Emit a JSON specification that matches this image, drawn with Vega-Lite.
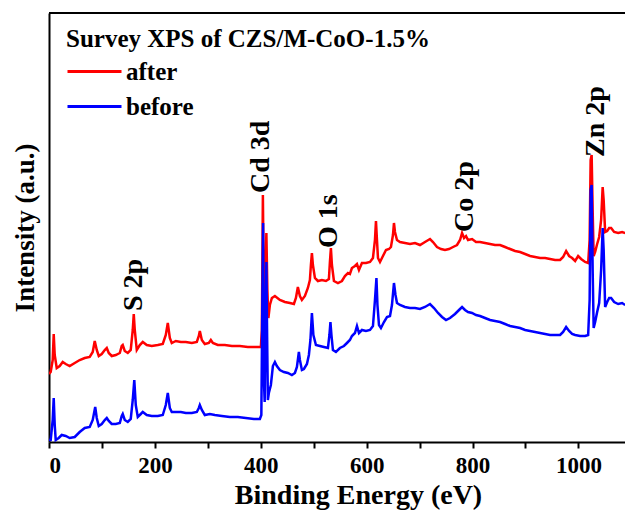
{
  "$schema": "https://vega.github.io/schema/vega-lite/v6.json",
  "width": 576,
  "height": 429,
  "autosize": {"type": "none"},
  "padding": {"left": 49, "top": 13, "right": 0, "bottom": 68},
  "background": "white",
  "config": {"view": {"stroke": null}, "font": "Liberation Serif"},
  "datasets": {
    "spectra": [
      {"sample": "after", "energy": 0, "intensity": 68},
      {"sample": "after", "energy": 3.2, "intensity": 70},
      {"sample": "after", "energy": 7.0, "intensity": 82},
      {"sample": "after", "energy": 8.9, "intensity": 108},
      {"sample": "after", "energy": 10.8, "intensity": 87},
      {"sample": "after", "energy": 14.6, "intensity": 74},
      {"sample": "after", "energy": 20.2, "intensity": 76},
      {"sample": "after", "energy": 25.9, "intensity": 80},
      {"sample": "after", "energy": 31.6, "intensity": 78},
      {"sample": "after", "energy": 39.1, "intensity": 76},
      {"sample": "after", "energy": 48.6, "intensity": 79},
      {"sample": "after", "energy": 58.0, "intensity": 82},
      {"sample": "after", "energy": 67.5, "intensity": 84},
      {"sample": "after", "energy": 76.9, "intensity": 85},
      {"sample": "after", "energy": 82.6, "intensity": 90},
      {"sample": "after", "energy": 86.4, "intensity": 101},
      {"sample": "after", "energy": 90.2, "intensity": 92},
      {"sample": "after", "energy": 94.0, "intensity": 86},
      {"sample": "after", "energy": 99.6, "intensity": 88},
      {"sample": "after", "energy": 105.3, "intensity": 92},
      {"sample": "after", "energy": 109.1, "intensity": 94},
      {"sample": "after", "energy": 112.9, "intensity": 89},
      {"sample": "after", "energy": 118.5, "intensity": 86},
      {"sample": "after", "energy": 126.1, "intensity": 87},
      {"sample": "after", "energy": 133.7, "intensity": 89},
      {"sample": "after", "energy": 137.4, "intensity": 96},
      {"sample": "after", "energy": 139.3, "intensity": 97},
      {"sample": "after", "energy": 143.1, "intensity": 91},
      {"sample": "after", "energy": 148.8, "intensity": 89},
      {"sample": "after", "energy": 154.4, "intensity": 92},
      {"sample": "after", "energy": 158.2, "intensity": 112},
      {"sample": "after", "energy": 160.1, "intensity": 128},
      {"sample": "after", "energy": 162.0, "intensity": 112},
      {"sample": "after", "energy": 165.8, "intensity": 92},
      {"sample": "after", "energy": 171.5, "intensity": 97},
      {"sample": "after", "energy": 177.1, "intensity": 100},
      {"sample": "after", "energy": 184.7, "intensity": 97},
      {"sample": "after", "energy": 194.1, "intensity": 96},
      {"sample": "after", "energy": 205.5, "intensity": 97},
      {"sample": "after", "energy": 214.9, "intensity": 98},
      {"sample": "after", "energy": 220.6, "intensity": 107},
      {"sample": "after", "energy": 224.4, "intensity": 119},
      {"sample": "after", "energy": 228.2, "intensity": 104},
      {"sample": "after", "energy": 231.9, "intensity": 99},
      {"sample": "after", "energy": 239.5, "intensity": 101},
      {"sample": "after", "energy": 249.0, "intensity": 100},
      {"sample": "after", "energy": 258.4, "intensity": 100},
      {"sample": "after", "energy": 269.8, "intensity": 99},
      {"sample": "after", "energy": 279.2, "intensity": 100},
      {"sample": "after", "energy": 283.0, "intensity": 106},
      {"sample": "after", "energy": 284.9, "intensity": 111},
      {"sample": "after", "energy": 288.7, "intensity": 102},
      {"sample": "after", "energy": 294.3, "intensity": 98},
      {"sample": "after", "energy": 301.9, "intensity": 99},
      {"sample": "after", "energy": 305.7, "intensity": 102},
      {"sample": "after", "energy": 309.5, "intensity": 99},
      {"sample": "after", "energy": 318.9, "intensity": 97},
      {"sample": "after", "energy": 332.1, "intensity": 97},
      {"sample": "after", "energy": 345.4, "intensity": 96},
      {"sample": "after", "energy": 360.5, "intensity": 96},
      {"sample": "after", "energy": 375.6, "intensity": 95},
      {"sample": "after", "energy": 388.9, "intensity": 95},
      {"sample": "after", "energy": 400.2, "intensity": 95},
      {"sample": "after", "energy": 402.1, "intensity": 112},
      {"sample": "after", "energy": 404.0, "intensity": 247},
      {"sample": "after", "energy": 405.9, "intensity": 142},
      {"sample": "after", "energy": 407.8, "intensity": 152},
      {"sample": "after", "energy": 410.6, "intensity": 209},
      {"sample": "after", "energy": 412.5, "intensity": 152},
      {"sample": "after", "energy": 414.4, "intensity": 124},
      {"sample": "after", "energy": 417.2, "intensity": 137},
      {"sample": "after", "energy": 421.0, "intensity": 144},
      {"sample": "after", "energy": 426.7, "intensity": 146},
      {"sample": "after", "energy": 436.1, "intensity": 142},
      {"sample": "after", "energy": 445.6, "intensity": 140},
      {"sample": "after", "energy": 455.0, "intensity": 139},
      {"sample": "after", "energy": 462.6, "intensity": 138},
      {"sample": "after", "energy": 466.4, "intensity": 144},
      {"sample": "after", "energy": 470.1, "intensity": 155},
      {"sample": "after", "energy": 473.9, "intensity": 146},
      {"sample": "after", "energy": 477.7, "intensity": 142},
      {"sample": "after", "energy": 483.4, "intensity": 146},
      {"sample": "after", "energy": 489.0, "intensity": 154},
      {"sample": "after", "energy": 492.8, "intensity": 162},
      {"sample": "after", "energy": 494.7, "intensity": 177},
      {"sample": "after", "energy": 496.6, "intensity": 189},
      {"sample": "after", "energy": 498.5, "intensity": 177},
      {"sample": "after", "energy": 502.3, "intensity": 164},
      {"sample": "after", "energy": 507.9, "intensity": 161},
      {"sample": "after", "energy": 515.5, "intensity": 162},
      {"sample": "after", "energy": 523.1, "intensity": 161},
      {"sample": "after", "energy": 528.7, "intensity": 163},
      {"sample": "after", "energy": 530.6, "intensity": 180},
      {"sample": "after", "energy": 532.5, "intensity": 194},
      {"sample": "after", "energy": 534.4, "intensity": 177},
      {"sample": "after", "energy": 538.2, "intensity": 161},
      {"sample": "after", "energy": 545.8, "intensity": 159},
      {"sample": "after", "energy": 553.3, "intensity": 161},
      {"sample": "after", "energy": 559.0, "intensity": 166},
      {"sample": "after", "energy": 564.7, "intensity": 169},
      {"sample": "after", "energy": 568.4, "intensity": 168},
      {"sample": "after", "energy": 572.2, "intensity": 174},
      {"sample": "after", "energy": 577.9, "intensity": 176},
      {"sample": "after", "energy": 581.7, "intensity": 178},
      {"sample": "after", "energy": 585.5, "intensity": 172},
      {"sample": "after", "energy": 591.1, "intensity": 179},
      {"sample": "after", "energy": 598.7, "intensity": 179},
      {"sample": "after", "energy": 606.3, "intensity": 180},
      {"sample": "after", "energy": 611.9, "intensity": 184},
      {"sample": "after", "energy": 615.7, "intensity": 202},
      {"sample": "after", "energy": 617.6, "intensity": 221},
      {"sample": "after", "energy": 619.5, "intensity": 202},
      {"sample": "after", "energy": 621.4, "intensity": 184},
      {"sample": "after", "energy": 625.2, "intensity": 180},
      {"sample": "after", "energy": 630.8, "intensity": 186},
      {"sample": "after", "energy": 636.5, "intensity": 192},
      {"sample": "after", "energy": 642.2, "intensity": 193},
      {"sample": "after", "energy": 645.9, "intensity": 195},
      {"sample": "after", "energy": 649.7, "intensity": 207},
      {"sample": "after", "energy": 651.6, "intensity": 219},
      {"sample": "after", "energy": 653.5, "intensity": 210},
      {"sample": "after", "energy": 657.3, "intensity": 202},
      {"sample": "after", "energy": 663.0, "intensity": 200},
      {"sample": "after", "energy": 672.4, "intensity": 199},
      {"sample": "after", "energy": 681.9, "intensity": 198},
      {"sample": "after", "energy": 691.3, "intensity": 199},
      {"sample": "after", "energy": 700.8, "intensity": 197},
      {"sample": "after", "energy": 710.2, "intensity": 200},
      {"sample": "after", "energy": 719.7, "intensity": 203},
      {"sample": "after", "energy": 725.3, "intensity": 200},
      {"sample": "after", "energy": 732.9, "intensity": 195},
      {"sample": "after", "energy": 740.5, "intensity": 193},
      {"sample": "after", "energy": 748.0, "intensity": 192},
      {"sample": "after", "energy": 755.6, "intensity": 193},
      {"sample": "after", "energy": 763.2, "intensity": 195},
      {"sample": "after", "energy": 770.7, "intensity": 197},
      {"sample": "after", "energy": 776.4, "intensity": 202},
      {"sample": "after", "energy": 780.2, "intensity": 209},
      {"sample": "after", "energy": 784.0, "intensity": 204},
      {"sample": "after", "energy": 787.7, "intensity": 206},
      {"sample": "after", "energy": 791.5, "intensity": 202},
      {"sample": "after", "energy": 799.1, "intensity": 203},
      {"sample": "after", "energy": 806.6, "intensity": 200},
      {"sample": "after", "energy": 814.2, "intensity": 200},
      {"sample": "after", "energy": 823.6, "intensity": 199},
      {"sample": "after", "energy": 833.1, "intensity": 198},
      {"sample": "after", "energy": 842.5, "intensity": 197},
      {"sample": "after", "energy": 852.0, "intensity": 197},
      {"sample": "after", "energy": 861.5, "intensity": 195},
      {"sample": "after", "energy": 870.9, "intensity": 193},
      {"sample": "after", "energy": 880.4, "intensity": 191},
      {"sample": "after", "energy": 889.8, "intensity": 190},
      {"sample": "after", "energy": 899.3, "intensity": 188},
      {"sample": "after", "energy": 908.7, "intensity": 186},
      {"sample": "after", "energy": 918.2, "intensity": 185},
      {"sample": "after", "energy": 927.6, "intensity": 184},
      {"sample": "after", "energy": 937.1, "intensity": 184},
      {"sample": "after", "energy": 946.5, "intensity": 183},
      {"sample": "after", "energy": 956.0, "intensity": 182},
      {"sample": "after", "energy": 965.4, "intensity": 182},
      {"sample": "after", "energy": 971.1, "intensity": 185},
      {"sample": "after", "energy": 976.8, "intensity": 191},
      {"sample": "after", "energy": 982.4, "intensity": 186},
      {"sample": "after", "energy": 988.1, "intensity": 184},
      {"sample": "after", "energy": 993.8, "intensity": 181},
      {"sample": "after", "energy": 999.5, "intensity": 186},
      {"sample": "after", "energy": 1005.1, "intensity": 183},
      {"sample": "after", "energy": 1012.7, "intensity": 180},
      {"sample": "after", "energy": 1018.4, "intensity": 179},
      {"sample": "after", "energy": 1021.2, "intensity": 202},
      {"sample": "after", "energy": 1023.1, "intensity": 282},
      {"sample": "after", "energy": 1025.0, "intensity": 287},
      {"sample": "after", "energy": 1026.9, "intensity": 232},
      {"sample": "after", "energy": 1028.8, "intensity": 186},
      {"sample": "after", "energy": 1031.6, "intensity": 190},
      {"sample": "after", "energy": 1035.4, "intensity": 198},
      {"sample": "after", "energy": 1039.2, "intensity": 205},
      {"sample": "after", "energy": 1042.9, "intensity": 222},
      {"sample": "after", "energy": 1045.8, "intensity": 255},
      {"sample": "after", "energy": 1047.7, "intensity": 242},
      {"sample": "after", "energy": 1050.5, "intensity": 210},
      {"sample": "after", "energy": 1054.3, "intensity": 211},
      {"sample": "after", "energy": 1058.1, "intensity": 214},
      {"sample": "after", "energy": 1061.8, "intensity": 214},
      {"sample": "after", "energy": 1067.5, "intensity": 210},
      {"sample": "after", "energy": 1075.1, "intensity": 209},
      {"sample": "after", "energy": 1082.6, "intensity": 210},
      {"sample": "after", "energy": 1088.3, "intensity": 209},
      {"sample": "before", "energy": 0, "intensity": 2},
      {"sample": "before", "energy": 3.2, "intensity": 2},
      {"sample": "before", "energy": 7.0, "intensity": 22},
      {"sample": "before", "energy": 8.9, "intensity": 44},
      {"sample": "before", "energy": 10.8, "intensity": 17},
      {"sample": "before", "energy": 12.7, "intensity": 2},
      {"sample": "before", "energy": 18.3, "intensity": 4},
      {"sample": "before", "energy": 24.0, "intensity": 7},
      {"sample": "before", "energy": 31.6, "intensity": 6},
      {"sample": "before", "energy": 39.1, "intensity": 4},
      {"sample": "before", "energy": 48.6, "intensity": 5},
      {"sample": "before", "energy": 58.0, "intensity": 10},
      {"sample": "before", "energy": 67.5, "intensity": 14},
      {"sample": "before", "energy": 76.9, "intensity": 15},
      {"sample": "before", "energy": 82.6, "intensity": 22},
      {"sample": "before", "energy": 87.3, "intensity": 35},
      {"sample": "before", "energy": 90.2, "intensity": 24},
      {"sample": "before", "energy": 94.0, "intensity": 16},
      {"sample": "before", "energy": 99.6, "intensity": 18},
      {"sample": "before", "energy": 105.3, "intensity": 22},
      {"sample": "before", "energy": 109.1, "intensity": 24},
      {"sample": "before", "energy": 112.9, "intensity": 21},
      {"sample": "before", "energy": 118.5, "intensity": 18},
      {"sample": "before", "energy": 126.1, "intensity": 18},
      {"sample": "before", "energy": 133.7, "intensity": 19},
      {"sample": "before", "energy": 137.4, "intensity": 26},
      {"sample": "before", "energy": 139.3, "intensity": 28},
      {"sample": "before", "energy": 143.1, "intensity": 22},
      {"sample": "before", "energy": 148.8, "intensity": 20},
      {"sample": "before", "energy": 154.4, "intensity": 23},
      {"sample": "before", "energy": 158.2, "intensity": 42},
      {"sample": "before", "energy": 161.1, "intensity": 62},
      {"sample": "before", "energy": 163.9, "intensity": 37},
      {"sample": "before", "energy": 167.7, "intensity": 25},
      {"sample": "before", "energy": 173.4, "intensity": 28},
      {"sample": "before", "energy": 177.1, "intensity": 30},
      {"sample": "before", "energy": 184.7, "intensity": 27},
      {"sample": "before", "energy": 194.1, "intensity": 26},
      {"sample": "before", "energy": 205.5, "intensity": 26},
      {"sample": "before", "energy": 214.9, "intensity": 27},
      {"sample": "before", "energy": 220.6, "intensity": 37},
      {"sample": "before", "energy": 224.4, "intensity": 49},
      {"sample": "before", "energy": 228.2, "intensity": 34},
      {"sample": "before", "energy": 231.9, "intensity": 30},
      {"sample": "before", "energy": 239.5, "intensity": 30},
      {"sample": "before", "energy": 249.0, "intensity": 30},
      {"sample": "before", "energy": 258.4, "intensity": 29},
      {"sample": "before", "energy": 269.8, "intensity": 29},
      {"sample": "before", "energy": 279.2, "intensity": 30},
      {"sample": "before", "energy": 283.0, "intensity": 34},
      {"sample": "before", "energy": 284.9, "intensity": 37},
      {"sample": "before", "energy": 288.7, "intensity": 32},
      {"sample": "before", "energy": 294.3, "intensity": 27},
      {"sample": "before", "energy": 303.8, "intensity": 28},
      {"sample": "before", "energy": 313.2, "intensity": 27},
      {"sample": "before", "energy": 326.5, "intensity": 26},
      {"sample": "before", "energy": 341.6, "intensity": 25},
      {"sample": "before", "energy": 356.7, "intensity": 25},
      {"sample": "before", "energy": 371.8, "intensity": 24},
      {"sample": "before", "energy": 387.0, "intensity": 23},
      {"sample": "before", "energy": 398.3, "intensity": 23},
      {"sample": "before", "energy": 401.1, "intensity": 27},
      {"sample": "before", "energy": 403.0, "intensity": 142},
      {"sample": "before", "energy": 404.4, "intensity": 219},
      {"sample": "before", "energy": 405.9, "intensity": 62},
      {"sample": "before", "energy": 407.4, "intensity": 40},
      {"sample": "before", "energy": 408.9, "intensity": 112},
      {"sample": "before", "energy": 410.6, "intensity": 180},
      {"sample": "before", "energy": 412.1, "intensity": 102},
      {"sample": "before", "energy": 413.4, "intensity": 42},
      {"sample": "before", "energy": 415.3, "intensity": 49},
      {"sample": "before", "energy": 419.1, "intensity": 57},
      {"sample": "before", "energy": 422.9, "intensity": 76},
      {"sample": "before", "energy": 426.7, "intensity": 80},
      {"sample": "before", "energy": 430.4, "intensity": 76},
      {"sample": "before", "energy": 436.1, "intensity": 72},
      {"sample": "before", "energy": 443.7, "intensity": 70},
      {"sample": "before", "energy": 451.2, "intensity": 69},
      {"sample": "before", "energy": 458.8, "intensity": 67},
      {"sample": "before", "energy": 464.5, "intensity": 69},
      {"sample": "before", "energy": 468.3, "intensity": 75},
      {"sample": "before", "energy": 472.0, "intensity": 90},
      {"sample": "before", "energy": 473.9, "intensity": 82},
      {"sample": "before", "energy": 477.7, "intensity": 72},
      {"sample": "before", "energy": 481.5, "intensity": 73},
      {"sample": "before", "energy": 487.2, "intensity": 78},
      {"sample": "before", "energy": 490.9, "intensity": 87},
      {"sample": "before", "energy": 493.8, "intensity": 102},
      {"sample": "before", "energy": 496.6, "intensity": 129},
      {"sample": "before", "energy": 499.4, "intensity": 107},
      {"sample": "before", "energy": 504.2, "intensity": 97},
      {"sample": "before", "energy": 511.7, "intensity": 96},
      {"sample": "before", "energy": 519.3, "intensity": 95},
      {"sample": "before", "energy": 526.9, "intensity": 94},
      {"sample": "before", "energy": 529.7, "intensity": 107},
      {"sample": "before", "energy": 531.6, "intensity": 120},
      {"sample": "before", "energy": 533.5, "intensity": 107},
      {"sample": "before", "energy": 536.3, "intensity": 92},
      {"sample": "before", "energy": 542.0, "intensity": 90},
      {"sample": "before", "energy": 549.5, "intensity": 94},
      {"sample": "before", "energy": 557.1, "intensity": 96},
      {"sample": "before", "energy": 562.8, "intensity": 99},
      {"sample": "before", "energy": 568.4, "intensity": 102},
      {"sample": "before", "energy": 572.2, "intensity": 106},
      {"sample": "before", "energy": 577.9, "intensity": 109},
      {"sample": "before", "energy": 581.7, "intensity": 116},
      {"sample": "before", "energy": 585.5, "intensity": 109},
      {"sample": "before", "energy": 591.1, "intensity": 112},
      {"sample": "before", "energy": 598.7, "intensity": 111},
      {"sample": "before", "energy": 606.3, "intensity": 112},
      {"sample": "before", "energy": 611.9, "intensity": 116},
      {"sample": "before", "energy": 615.7, "intensity": 142},
      {"sample": "before", "energy": 618.5, "intensity": 164},
      {"sample": "before", "energy": 620.4, "intensity": 137},
      {"sample": "before", "energy": 623.3, "intensity": 117},
      {"sample": "before", "energy": 627.0, "intensity": 114},
      {"sample": "before", "energy": 632.7, "intensity": 120},
      {"sample": "before", "energy": 638.4, "intensity": 125},
      {"sample": "before", "energy": 644.1, "intensity": 126},
      {"sample": "before", "energy": 647.8, "intensity": 137},
      {"sample": "before", "energy": 651.6, "intensity": 159},
      {"sample": "before", "energy": 654.5, "intensity": 147},
      {"sample": "before", "energy": 657.3, "intensity": 139},
      {"sample": "before", "energy": 663.0, "intensity": 137},
      {"sample": "before", "energy": 672.4, "intensity": 135},
      {"sample": "before", "energy": 681.9, "intensity": 134},
      {"sample": "before", "energy": 691.3, "intensity": 134},
      {"sample": "before", "energy": 700.8, "intensity": 133},
      {"sample": "before", "energy": 710.2, "intensity": 135},
      {"sample": "before", "energy": 719.7, "intensity": 138},
      {"sample": "before", "energy": 727.2, "intensity": 134},
      {"sample": "before", "energy": 734.8, "intensity": 129},
      {"sample": "before", "energy": 742.4, "intensity": 125},
      {"sample": "before", "energy": 749.9, "intensity": 122},
      {"sample": "before", "energy": 757.5, "intensity": 124},
      {"sample": "before", "energy": 766.9, "intensity": 128},
      {"sample": "before", "energy": 774.5, "intensity": 132},
      {"sample": "before", "energy": 780.2, "intensity": 135},
      {"sample": "before", "energy": 785.8, "intensity": 132},
      {"sample": "before", "energy": 791.5, "intensity": 130},
      {"sample": "before", "energy": 799.1, "intensity": 129},
      {"sample": "before", "energy": 806.6, "intensity": 127},
      {"sample": "before", "energy": 814.2, "intensity": 126},
      {"sample": "before", "energy": 823.6, "intensity": 124},
      {"sample": "before", "energy": 833.1, "intensity": 122},
      {"sample": "before", "energy": 842.5, "intensity": 121},
      {"sample": "before", "energy": 852.0, "intensity": 120},
      {"sample": "before", "energy": 861.5, "intensity": 118},
      {"sample": "before", "energy": 870.9, "intensity": 116},
      {"sample": "before", "energy": 880.4, "intensity": 115},
      {"sample": "before", "energy": 889.8, "intensity": 114},
      {"sample": "before", "energy": 899.3, "intensity": 112},
      {"sample": "before", "energy": 908.7, "intensity": 111},
      {"sample": "before", "energy": 918.2, "intensity": 110},
      {"sample": "before", "energy": 927.6, "intensity": 109},
      {"sample": "before", "energy": 937.1, "intensity": 108},
      {"sample": "before", "energy": 946.5, "intensity": 107},
      {"sample": "before", "energy": 956.0, "intensity": 107},
      {"sample": "before", "energy": 965.4, "intensity": 107},
      {"sample": "before", "energy": 971.1, "intensity": 110},
      {"sample": "before", "energy": 976.8, "intensity": 115},
      {"sample": "before", "energy": 982.4, "intensity": 111},
      {"sample": "before", "energy": 988.1, "intensity": 108},
      {"sample": "before", "energy": 993.8, "intensity": 107},
      {"sample": "before", "energy": 1003.2, "intensity": 106},
      {"sample": "before", "energy": 1012.7, "intensity": 106},
      {"sample": "before", "energy": 1018.4, "intensity": 107},
      {"sample": "before", "energy": 1021.2, "intensity": 142},
      {"sample": "before", "energy": 1023.1, "intensity": 252},
      {"sample": "before", "energy": 1025.0, "intensity": 257},
      {"sample": "before", "energy": 1026.9, "intensity": 172},
      {"sample": "before", "energy": 1028.8, "intensity": 114},
      {"sample": "before", "energy": 1031.6, "intensity": 120},
      {"sample": "before", "energy": 1035.4, "intensity": 130},
      {"sample": "before", "energy": 1039.2, "intensity": 139},
      {"sample": "before", "energy": 1042.9, "intensity": 172},
      {"sample": "before", "energy": 1045.8, "intensity": 214},
      {"sample": "before", "energy": 1047.7, "intensity": 192},
      {"sample": "before", "energy": 1050.5, "intensity": 135},
      {"sample": "before", "energy": 1054.3, "intensity": 140},
      {"sample": "before", "energy": 1058.1, "intensity": 144},
      {"sample": "before", "energy": 1061.8, "intensity": 144},
      {"sample": "before", "energy": 1067.5, "intensity": 140},
      {"sample": "before", "energy": 1075.1, "intensity": 138},
      {"sample": "before", "energy": 1082.6, "intensity": 139},
      {"sample": "before", "energy": 1088.3, "intensity": 137}
    ],
    "peaks": [
      {"label": "S 2p", "energy": 175, "intensity": 131},
      {"label": "Cd 3d", "energy": 415, "intensity": 249},
      {"label": "O 1s", "energy": 544, "intensity": 194},
      {"label": "Co 2p", "energy": 801, "intensity": 210},
      {"label": "Zn 2p", "energy": 1048, "intensity": 285}
    ]
  },
  "layer": [
    {
      "data": {"name": "spectra"},
      "mark": {"type": "line", "strokeWidth": 2.5, "clip": true},
      "encoding": {
        "x": {
          "field": "energy",
          "type": "quantitative",
          "scale": {"domain": [0, 1088], "nice": false, "zero": false},
          "axis": {
            "title": "Binding Energy (eV)",
            "values": [0, 100, 200, 300, 400, 500, 600, 700, 800, 900, 1000],
            "format": "d",
            "labelExpr": "datum.value % 200 === 0 ? datum.label : ''",
            "grid": false,
            "domainColor": "black",
            "domainWidth": 2,
            "tickColor": "black",
            "tickWidth": 2,
            "tickSize": 6,
            "labelFont": "Liberation Serif",
            "labelFontWeight": "bold",
            "labelFontSize": 23,
            "labelColor": "black",
            "labelPadding": 6,
            "titleFont": "Liberation Serif",
            "titleFontWeight": "bold",
            "titleFontSize": 28,
            "titleColor": "black",
            "titlePadding": 4,
            "titleX": 309
          }
        },
        "y": {
          "field": "intensity",
          "type": "quantitative",
          "scale": {"domain": [0, 429], "nice": false},
          "axis": {
            "title": "Intensity (a.u.)",
            "labels": false,
            "ticks": false,
            "grid": false,
            "domainColor": "black",
            "domainWidth": 2,
            "titleFont": "Liberation Serif",
            "titleFontWeight": "bold",
            "titleFontSize": 27,
            "titleColor": "black",
            "titlePadding": 10
          }
        },
        "color": {
          "field": "sample",
          "type": "nominal",
          "scale": {"domain": ["after", "before"], "range": ["#ff0000", "#0000ff"]},
          "legend": {
            "title": "Survey XPS of CZS/M-CoO-1.5%",
            "orient": "none",
            "legendX": 17,
            "legendY": 14,
            "symbolType": "stroke",
            "symbolStrokeWidth": 3,
            "symbolSize": 2916,
            "clipHeight": 25,
            "titleFont": "Liberation Serif",
            "titleFontWeight": "bold",
            "titleFontSize": 25,
            "titleColor": "black",
            "titleLimit": 600,
            "titlePadding": 7,
            "labelFont": "Liberation Serif",
            "labelFontWeight": "bold",
            "labelFontSize": 25,
            "labelColor": "black",
            "labelOffset": 3,
            "labelLimit": 300,
            "rowPadding": 9
          }
        }
      }
    },
    {
      "data": {"values": [{}]},
      "mark": {"type": "rule", "color": "black", "strokeWidth": 2},
      "encoding": {"y": {"datum": 429}}
    },
    {
      "data": {"name": "peaks"},
      "mark": {
        "type": "text",
        "angle": 270,
        "align": "left",
        "baseline": "alphabetic",
        "font": "Liberation Serif",
        "fontSize": 28,
        "fontWeight": "bold",
        "color": "black"
      },
      "encoding": {
        "x": {"field": "energy", "type": "quantitative"},
        "y": {"field": "intensity", "type": "quantitative"},
        "text": {"field": "label"}
      }
    }
  ]
}
